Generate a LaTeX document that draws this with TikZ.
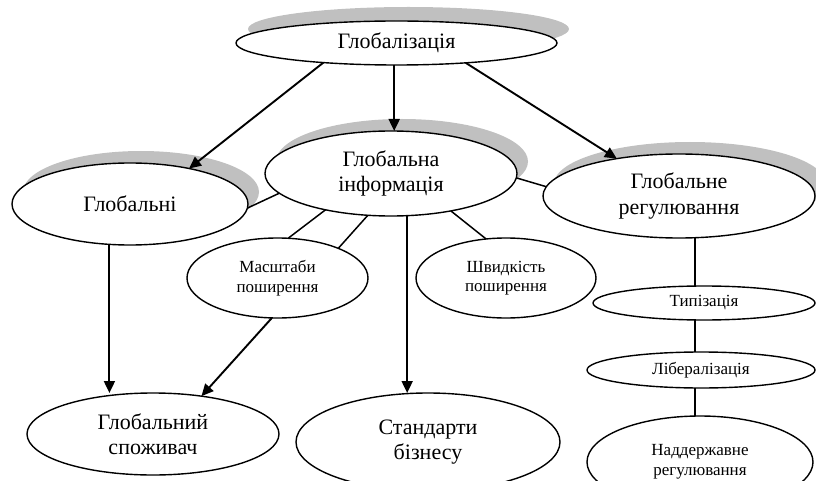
\documentclass[tikz,border=0pt]{standalone}
\usepackage{fontspec}
\setmainfont{Liberation Serif}
\usetikzlibrary{shapes.geometric,arrows.meta,shadows}
\definecolor{shadowgray}{HTML}{C0C0C0}
\tikzset{
  oval/.style={ellipse, draw=black, line width=1.4pt, fill=white, inner sep=0pt, outer sep=0pt, align=center},
  big/.style={oval, font=\fontsize{22}{25.5}\selectfont},
  small/.style={oval, font=\fontsize{17}{19.5}\selectfont},
  shad/.style={general shadow={fill=shadowgray, shadow xshift=11pt, shadow yshift=12pt}},
  arr/.style={line width=1.9pt, -{Triangle[length=12pt,width=11pt]}},
  link/.style={line width=1.5pt},
}
\begin{document}
\begin{tikzpicture}[x=1pt,y=-1pt]
\useasboundingbox (0,0) rectangle (816,481);
\clip (0,0) rectangle (816,481);
% nodes
\node[big,general shadow={fill=shadowgray, shadow xshift=12pt, shadow yshift=14pt},minimum width=321pt,minimum height=44pt] (glob) at (396.5,43) {Глобалізація};
\node[big,shad,minimum width=236pt,minimum height=82pt] (globalni) at (130,204) {Глобальні};
\node[big,shad,minimum width=252pt,minimum height=85pt] (ginf) at (391,173.5) {Глобальна\\інформація};
\node[big,shad,minimum width=272pt,minimum height=84pt] (greg) at (679,196) {Глобальне\\регулювання};
\node[small,minimum width=181pt,minimum height=80pt] (masht) at (277.5,278) {Масштаби\\поширення};
\node[small,minimum width=180pt,minimum height=80pt] (shvyd) at (506,278) {Швидкість\\поширення};
\node[small,minimum width=222pt,minimum height=34pt] (typ) at (704,303) {Типізація};
\node[small,minimum width=228pt,minimum height=36pt] (lib) at (701,370) {Лібералізація};
\node[small,minimum width=226pt,minimum height=92pt] (nadd) at (700,462) {Наддержавне\\регулювання};
\node[big,minimum width=252pt,minimum height=82pt] (spoz) at (153,434) {Глобальний\\споживач};
\node[big,minimum width=264pt,minimum height=98pt] (stand) at (428,442) {Стандарти\\бізнесу};
% arrows from the top node
\draw[arr] (glob.195.4) -- (globalni.31.7);
\draw[arr] (glob.264) -- (glob.264 |- ginf.north);
\draw[arr] (glob.344.7) -- (greg.149.2);
% links between the middle row
\draw[link] (globalni.-2) -- (ginf.190.3);
\draw[link] (ginf.-2) -- (greg.176.2);
% from the information node
\draw[link] (ginf.209) -- (masht.75.3);
\draw[link] (ginf.241.6) -- (masht.26.4);
\draw[link] (ginf.328.5) -- (shvyd.117.2);
\draw[arr] (ginf.291) -- (ginf.291 |- stand.north);
% down to the consumer
\draw[arr] (globalni.243.7) -- (globalni.243.7 |- spoz.north);
\draw[arr] (masht.262.4) -- (spoz.38.9);
% regulation chain
\draw[link] (greg.291) -- (greg.291 |- typ.north);
\draw[link] (typ.south -| greg.291) -- (lib.north -| greg.291);
\draw[link] (lib.south -| greg.291) -- (nadd.north -| greg.291);
\end{tikzpicture}
\end{document}
